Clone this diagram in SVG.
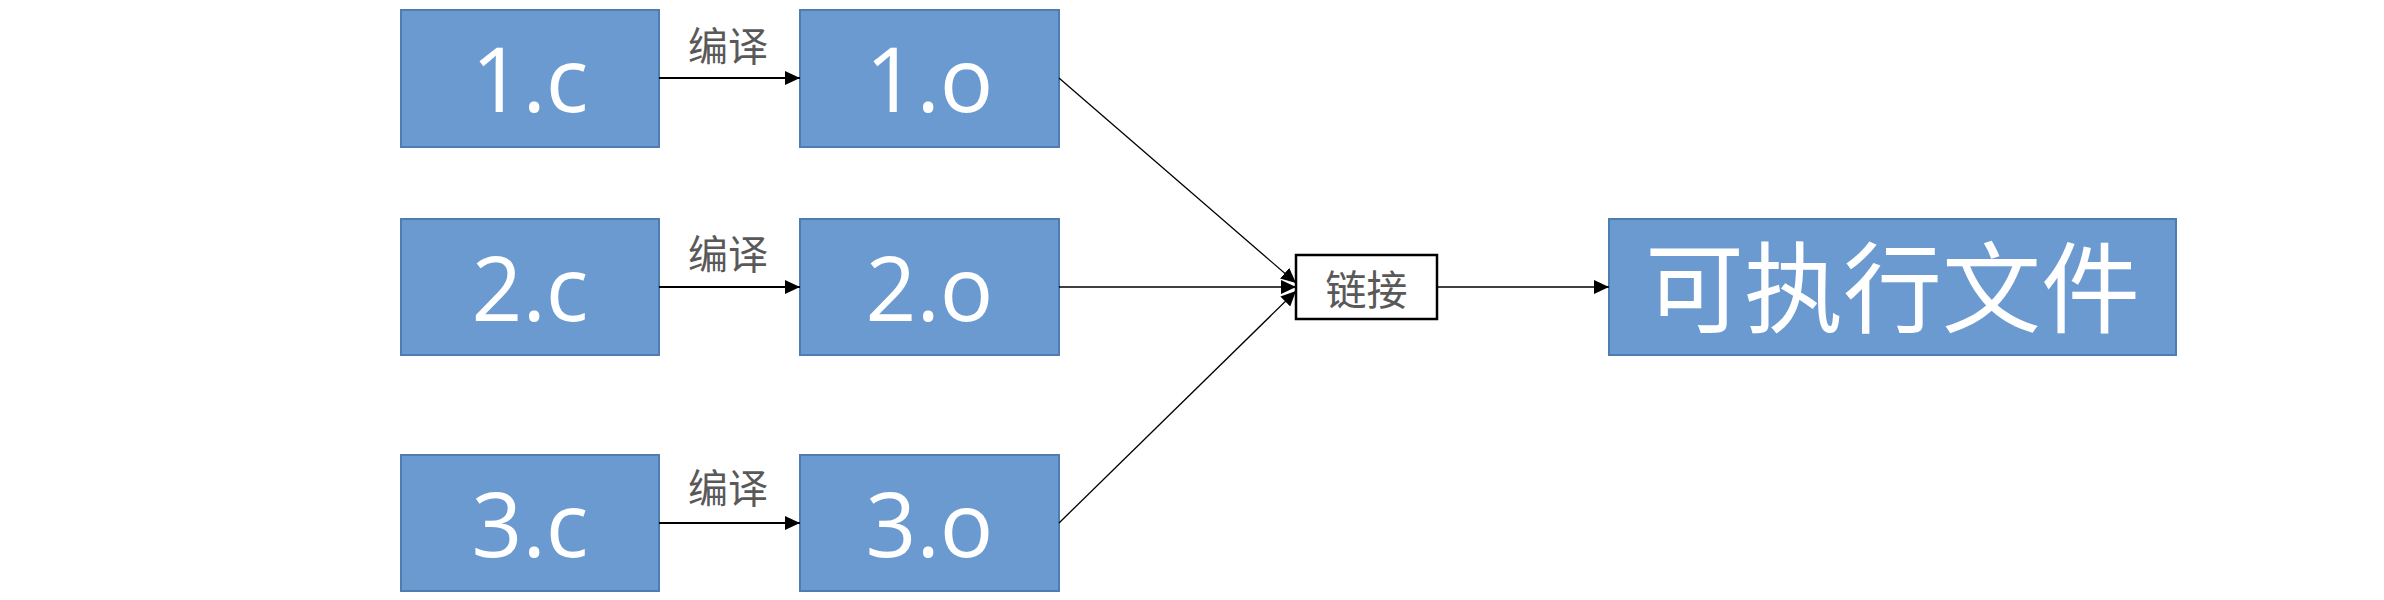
<svg xmlns="http://www.w3.org/2000/svg" width="2384" height="600" viewBox="0 0 2384 600">
<style>
.box{fill:#6A9AD0;stroke:#4F7DB0;stroke-width:2}
.lbl{font-family:"Open Sans","Noto Sans",sans-serif;font-size:89px;fill:#ffffff;text-anchor:middle}
.cn{font-family:"Noto Sans CJK SC",sans-serif;font-size:40px;fill:#595959;text-anchor:middle}
.big{font-family:"Noto Sans CJK SC",serif;font-size:99px;fill:#ffffff;text-anchor:middle}
.ln{stroke:#000;stroke-width:2;fill:none;marker-end:url(#ah)}
.ln1{stroke:#000;stroke-width:1.3;fill:none;marker-end:url(#ah)}
</style>
<defs>
<marker id="ah" markerUnits="userSpaceOnUse" markerWidth="16" markerHeight="14" refX="15" refY="7" orient="auto">
<path d="M0,0 L15,7 L0,14 Z" fill="#000"/>
</marker>
</defs>
<rect width="2384" height="600" fill="#fff"/>
<g id="n1c"><rect class="box" x="401" y="10" width="258" height="137"/><text class="lbl" x="530" y="112">1.c</text></g>
<g id="n1o"><rect class="box" x="800" y="10" width="259" height="137"/><text class="lbl" x="929.5" y="112">1.o</text></g>
<g id="n2c"><rect class="box" x="401" y="219" width="258" height="136"/><text class="lbl" x="530" y="321">2.c</text></g>
<g id="n2o"><rect class="box" x="800" y="219" width="259" height="136"/><text class="lbl" x="929.5" y="321">2.o</text></g>
<g id="n3c"><rect class="box" x="401" y="455" width="258" height="136"/><text class="lbl" x="530" y="557">3.c</text></g>
<g id="n3o"><rect class="box" x="800" y="455" width="259" height="136"/><text class="lbl" x="929.5" y="557">3.o</text></g>
<g id="link"><rect x="1296" y="255" width="141" height="64" fill="#fff" stroke="#000" stroke-width="2.5"/><text class="cn" x="1366.5" y="305" style="font-size:41px">链接</text></g>
<g id="exe"><rect class="box" x="1609" y="219" width="567" height="136"/><text class="big" x="1892.5" y="325">可执行文件</text></g>
<g id="connectors">
<line class="ln" x1="659" y1="78" x2="800" y2="78"/>
<line class="ln" x1="659" y1="287" x2="800" y2="287"/>
<line class="ln" x1="659" y1="523" x2="800" y2="523"/>
<text class="cn" x="728" y="61">编译</text>
<text class="cn" x="728" y="269">编译</text>
<text class="cn" x="728" y="503">编译</text>
<line class="ln1" x1="1059" y1="78" x2="1296" y2="283"/>
<line class="ln1" x1="1059" y1="287" x2="1296" y2="287"/>
<line class="ln1" x1="1059" y1="523" x2="1296" y2="291"/>
<line class="ln1" x1="1437" y1="287" x2="1609" y2="287"/>
</g>
</svg>
